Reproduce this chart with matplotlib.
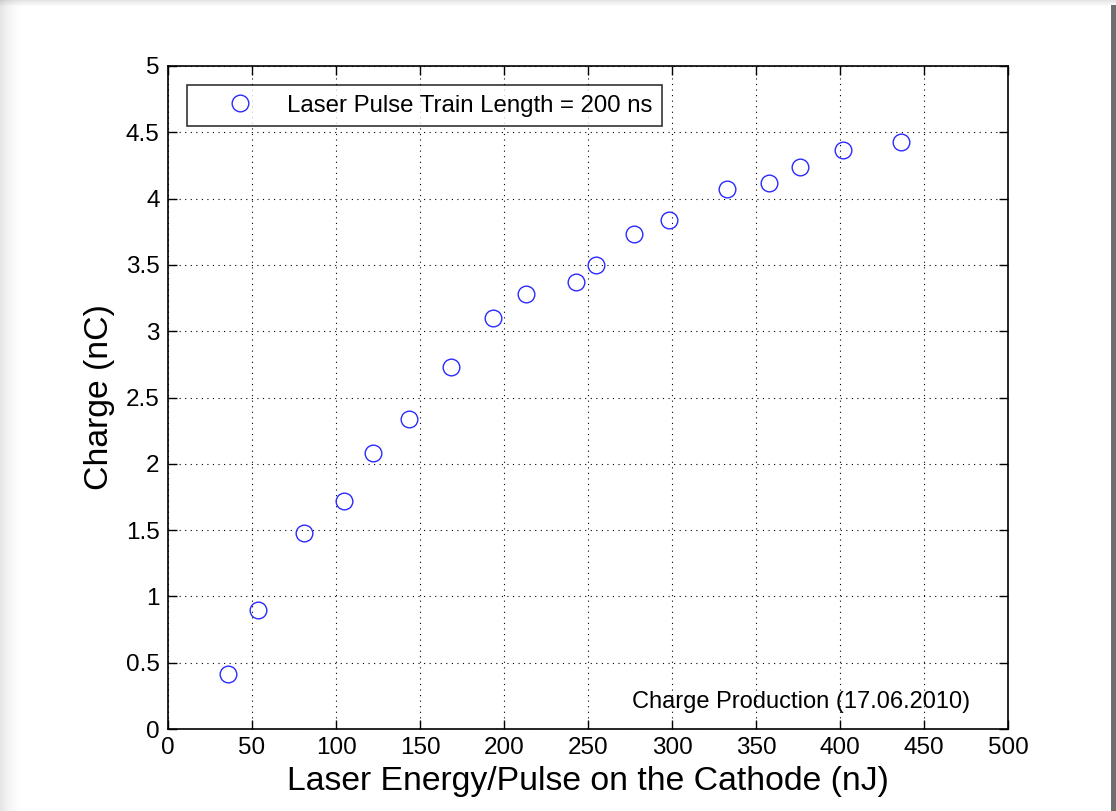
import numpy as np
import matplotlib.pyplot as plt
from matplotlib.patches import Rectangle

plt.rcParams['font.family'] = ['Liberation Sans', 'DejaVu Sans']

# laser energy per pulse (nJ) and extracted charge (nC)
energy = [35.7, 53.6, 81.0, 104.8, 122.0, 143.5, 168.5, 193.5, 213.0, 243.0,
          254.8, 277.4, 298.0, 332.7, 357.7, 376.0, 401.8, 436.3]
charge = [0.415, 0.897, 1.478, 1.72, 2.08, 2.34, 2.73, 3.10, 3.28, 3.37,
          3.50, 3.73, 3.84, 4.07, 4.12, 4.24, 4.37, 4.43]

x_ticks = np.arange(0, 501, 50)
y_ticks = np.arange(0, 5.01, 0.5)
y_labels = ['0', '0.5', '1', '1.5', '2', '2.5', '3', '3.5', '4', '4.5', '5']

W, H = 1116, 811
fig = plt.figure(figsize=(W / 100, H / 100), dpi=100)

# page shadow around the sheet
for i in range(25):
    a = 0.10 * (1 - i / 25) ** 2
    fig.patches.append(Rectangle((i / W, 0), 1 / W, 1, transform=fig.transFigure,
                                 color='k', alpha=a, lw=0))
for i in range(6):
    a = 0.10 * (1 - i / 6)
    fig.patches.append(Rectangle((0, 1 - (i + 1) / H), 1, 1 / H, transform=fig.transFigure,
                                 color='k', alpha=a, lw=0))
fig.patches.append(Rectangle((1111 / W, 0), 5 / W, 1 - 5 / H, transform=fig.transFigure,
                             color='#6e6e6e', lw=0))

ax = fig.add_axes([168 / W, 1 - 729 / H, 840 / W, 663 / H])
ax.plot(energy, charge, 'o', mfc='none', mec='#2a2aff', ms=12, mew=1.0,
        label='Laser Pulse Train Length = 200 ns')

ax.set_xlim(0, 500)
ax.set_ylim(0, 5)
ax.set_xticks(x_ticks)
ax.set_yticks(y_ticks)
ax.set_yticklabels(y_labels)
ax.tick_params(direction='in', top=True, right=True, length=6.5, width=1,
               labelsize=17.5, pad=6)
ax.grid(True, color='k', linestyle=(0, (1, 4)), linewidth=0.8)
for s in ax.spines.values():
    s.set_linewidth(1.2)

ax.set_xlabel('Laser Energy/Pulse on the Cathode (nJ)', fontsize=24.3, labelpad=5)
ax.set_ylabel('Charge (nC)', fontsize=24.3, labelpad=8)

leg = ax.legend(loc='upper left', fontsize=17.3, frameon=True, fancybox=False,
                edgecolor='k', borderaxespad=0.8, handletextpad=0.15,
                borderpad=0.4, handlelength=3.6)
leg.get_frame().set_linewidth(1.2)

ax.text(0.955, 0.024, 'Charge Production (17.06.2010)', transform=ax.transAxes,
        ha='right', va='bottom', fontsize=17)

fig.savefig('out.png', dpi=100)
